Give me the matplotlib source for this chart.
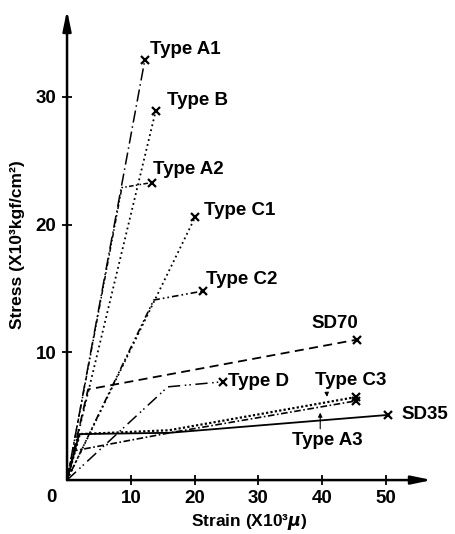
import matplotlib.pyplot as plt

plt.rcParams['font.family'] = ['Liberation Sans', 'DejaVu Sans']
plt.rcParams['font.weight'] = 'bold'
plt.rcParams['axes.labelweight'] = 'bold'

# stress-strain curves: strain (x10^3 micro), stress (x10^3 kgf/cm2)
a1_x = [0, 12.2]
a1_y = [0, 32.9]
b_x = [0, 13.9]
b_y = [0, 28.9]
a2_x = [0, 8.6, 13.3]
a2_y = [0, 22.9, 23.3]
c1_x = [0, 20.1]
c1_y = [0, 20.6]
c2_x = [0, 13.6, 21.3]
c2_y = [0, 14.1, 14.8]
sd70_x = [0, 3.3, 45.5]
sd70_y = [0, 7.1, 11.0]
d_x = [0, 15.8, 24.5]
d_y = [0, 7.3, 7.7]
c3_x = [0, 2.0, 16.0, 45.3]
c3_y = [0, 3.6, 3.9, 6.5]
a3_x = [0, 1.2, 16.1, 45.3]
a3_y = [0, 2.3, 3.7, 6.2]
sd35_x = [0, 1.9, 16.0, 50.3]
sd35_y = [0, 3.6, 3.7, 5.1]

fig = plt.figure(figsize=(4.56, 5.34), dpi=100)
ax = fig.add_axes([0.147, 0.101, 0.80, 0.88])

def curve(xs, ys, ls, lw=1.1, mark=True):
    ax.plot(xs, ys, color='black', linestyle=ls, linewidth=lw)
    if mark:
        ax.plot(xs[-1], ys[-1], marker='x', color='black', markersize=6, mew=1.6)

curve(a1_x, a1_y, (0, (8, 2.5, 1, 2.5)))
curve(b_x, b_y, (0, (1, 1.8)), lw=1.3)
curve(a2_x, a2_y, (0, (3, 1.5, 1, 1.5, 1, 1.5)))
curve(c1_x, c1_y, (0, (1, 1.8)), lw=1.3)
curve(c2_x, c2_y, (0, (1, 1.8, 1, 1.8, 4, 1.8)), lw=1.2)
curve(sd70_x, sd70_y, (0, (5, 3)), lw=1.3)
curve(d_x, d_y, (0, (8, 3, 1, 2, 1, 3)))
curve(c3_x, c3_y, (0, (1, 1)), lw=1.6)
curve(a3_x, a3_y, (0, (4, 1.5, 1, 1.5)), lw=1.2)
curve(sd35_x, sd35_y, '-', lw=1.3)

fs = 13.5
ax.text(13.0, 33.7, 'Type A1', fontsize=fs, va='center')
ax.text(15.7, 29.7, 'Type B', fontsize=fs, va='center')
ax.text(13.5, 24.3, 'Type A2', fontsize=fs, va='center')
ax.text(21.5, 21.1, 'Type C1', fontsize=fs, va='center')
ax.text(21.8, 15.7, 'Type C2', fontsize=fs, va='center')
ax.text(38.4, 12.3, 'SD70', fontsize=fs, va='center')
ax.text(25.2, 7.7, 'Type D', fontsize=fs, va='center')
ax.text(38.9, 7.8, 'Type C3', fontsize=fs, va='center')
ax.text(35.3, 3.1, 'Type A3', fontsize=fs, va='center')
ax.text(52.4, 5.1, 'SD35', fontsize=fs, va='center')

ax.annotate('', xy=(40.8, 6.3), xytext=(40.7, 7.0),
            arrowprops=dict(arrowstyle='-|>', color='black', lw=0.8, mutation_scale=6))
ax.annotate('', xy=(39.7, 5.5), xytext=(39.7, 3.8),
            arrowprops=dict(arrowstyle='-|>', color='black', lw=0.8, mutation_scale=6))

ax.set_xlim(0, 57.2)
ax.set_ylim(0, 36.8)
for s in ax.spines.values():
    s.set_visible(False)
ax.annotate('', xy=(1, 0), xytext=(0, 0), xycoords='axes fraction',
            arrowprops=dict(arrowstyle='-|>,head_length=1.2,head_width=0.25', color='black', lw=1.8, shrinkA=0, shrinkB=0))
ax.annotate('', xy=(0, 1), xytext=(0, 0), xycoords='axes fraction',
            arrowprops=dict(arrowstyle='-|>,head_length=1.2,head_width=0.25', color='black', lw=1.8, shrinkA=0, shrinkB=0))

ax.set_xticks([10, 20, 30, 40, 50])
ax.set_yticks([10, 20, 30])
ax.tick_params(axis='both', direction='inout', length=7, width=1.3, labelsize=fs, pad=4)
ax.text(-1.6, -1.4, '0', fontsize=fs, ha='right', va='center')

ax.set_xlabel('Strain (X10³$\\mu$)', fontsize=12.5, labelpad=3)
ax.set_ylabel('Stress (X10³kgf/cm²)', fontsize=12.5, labelpad=8)

fig.savefig('out.png', dpi=100)
